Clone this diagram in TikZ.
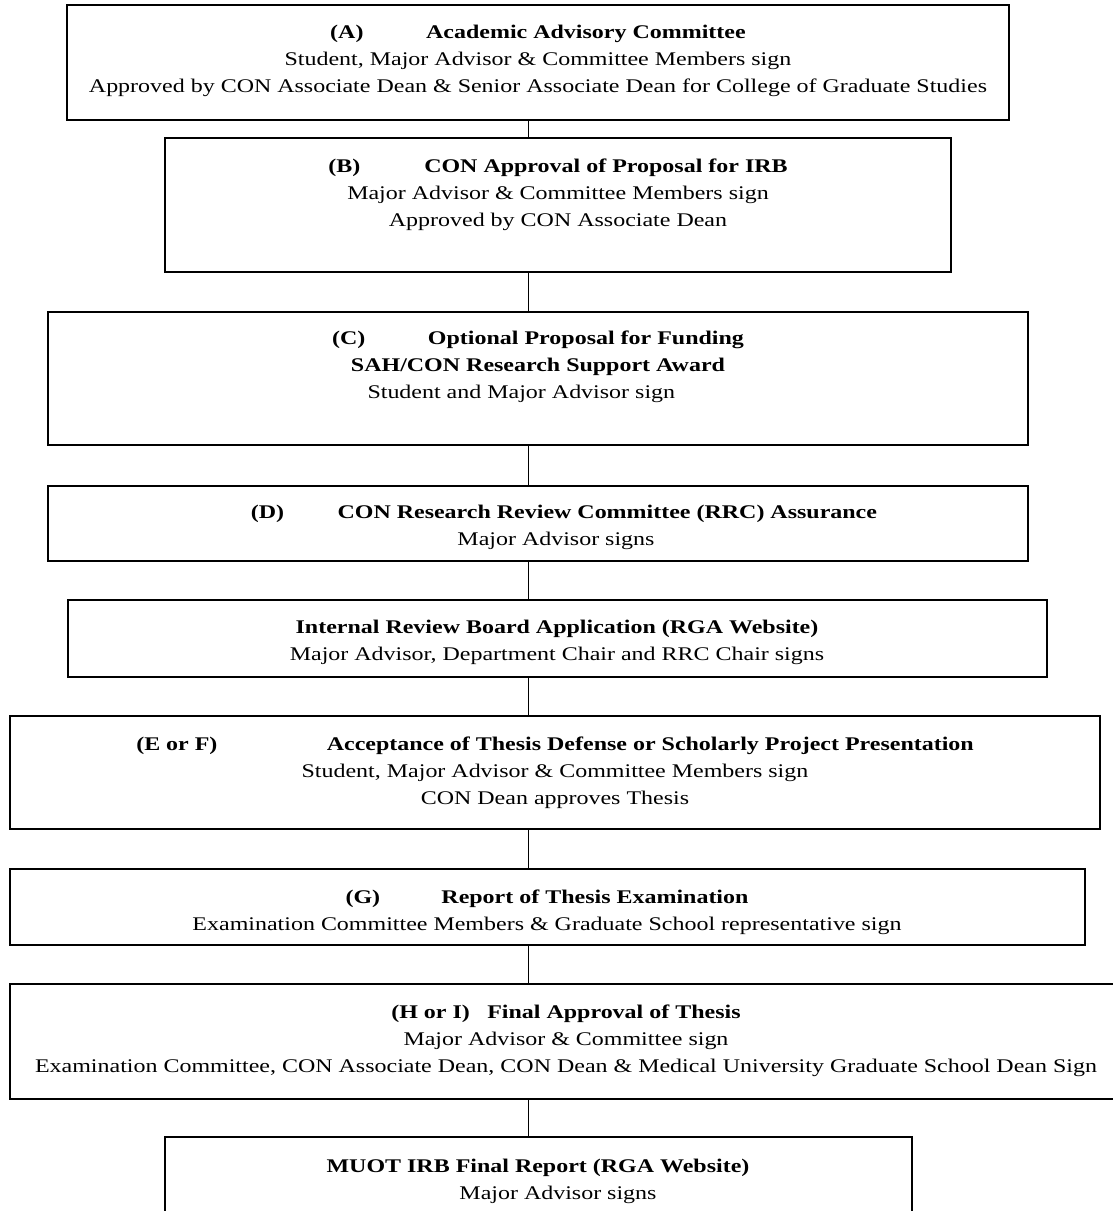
\documentclass[tikz,border=0pt]{standalone}
\usepackage{fontspec}
\setmainfont{Liberation Serif}[FakeStretch=1.24]
\usetikzlibrary{positioning, fit}

\begin{document}
\begin{tikzpicture}[
    x=0.75pt, y=-0.75pt,
    box/.style={rectangle, draw=black, line width=1pt, inner sep=0pt},
    txt/.style={anchor=base, align=center, inner sep=0pt,
                font=\fontsize{14.5}{20.25}\selectfont},
    link/.style={line width=0.8pt, black}
]
\useasboundingbox (0,0) rectangle (1113,1211);
\clip (0,0) rectangle (1113,1211);
\coordinate (spine) at (528.5,0);

% boxes
\node[box, fit={(67,5) (1009,120)}] (a) {};
\node[box, fit={(165,138) (951,272)}] (b) {};
\node[box, fit={(48,312) (1028,445)}] (c) {};
\node[box, fit={(48,486) (1028,561)}] (d) {};
\node[box, fit={(68,600) (1047,677)}] (irb) {};
\node[box, fit={(10,716) (1100,829)}] (ef) {};
\node[box, fit={(10,869) (1085,945)}] (g) {};
\node[box, fit={(10,984) (1125,1099)}] (hi) {};
\node[box, fit={(165,1137) (912,1225)}] (muot) {};

% texts (anchored on the last line)
\node[txt] (ta) at (538,92) {\textbf{(A)\hspace{47pt}Academic Advisory Committee}\\
    Student, Major Advisor \& Committee Members sign\\
    Approved by CON Associate Dean \& Senior Associate Dean for College of Graduate Studies};
\node[txt] (tb) at (558,226) {\textbf{(B)\hspace{48pt}CON Approval of Proposal for IRB}\\
    Major Advisor \& Committee Members sign\\
    Approved by CON Associate Dean};
\node[txt] (tc) at (538,398) {\textbf{(C)\hspace{47pt}Optional Proposal for Funding}\\
    \textbf{SAH/CON Research Support Award}\\
    Student and Major Advisor sign\hspace*{25pt}};
\node[txt] (td) at (556,545) {\hspace*{12pt}\textbf{(D)\hspace{40pt}CON Research Review Committee (RRC) Assurance}\\
    Major Advisor signs};
\node[txt] (tirb) at (557,660) {\textbf{Internal Review Board Application (RGA Website)}\\
    Major Advisor, Department Chair and RRC Chair signs};
\node[txt] (tef) at (555,804) {\textbf{(E or F)\hspace{82pt}Acceptance of Thesis Defense or Scholarly Project Presentation}\\
    Student, Major Advisor \& Committee Members sign\\
    CON Dean approves Thesis};
\node[txt] (tg) at (547,930) {\textbf{(G)\hspace{46pt}Report of Thesis Examination}\\
    Examination Committee Members \& Graduate School representative sign};
\node[txt] (thi) at (566,1072) {\textbf{(H or I)\hspace{13pt}Final Approval of Thesis}\\
    Major Advisor \& Committee sign\\
    Examination Committee, CON Associate Dean, CON Dean \& Medical University Graduate School Dean Sign};
\node[txt] (tmuot) at (538,1199) {\textbf{MUOT IRB Final Report (RGA Website)}\\
    \hspace*{30pt}Major Advisor signs};

% connectors
\draw[link] (a.south -| spine) -- (b.north -| spine);
\draw[link] (b.south -| spine) -- (c.north -| spine);
\draw[link] (c.south -| spine) -- (d.north -| spine);
\draw[link] (d.south -| spine) -- (irb.north -| spine);
\draw[link] (irb.south -| spine) -- (ef.north -| spine);
\draw[link] (ef.south -| spine) -- (g.north -| spine);
\draw[link] (g.south -| spine) -- (hi.north -| spine);
\draw[link] (hi.south -| spine) -- (muot.north -| spine);
\end{tikzpicture}
\end{document}
